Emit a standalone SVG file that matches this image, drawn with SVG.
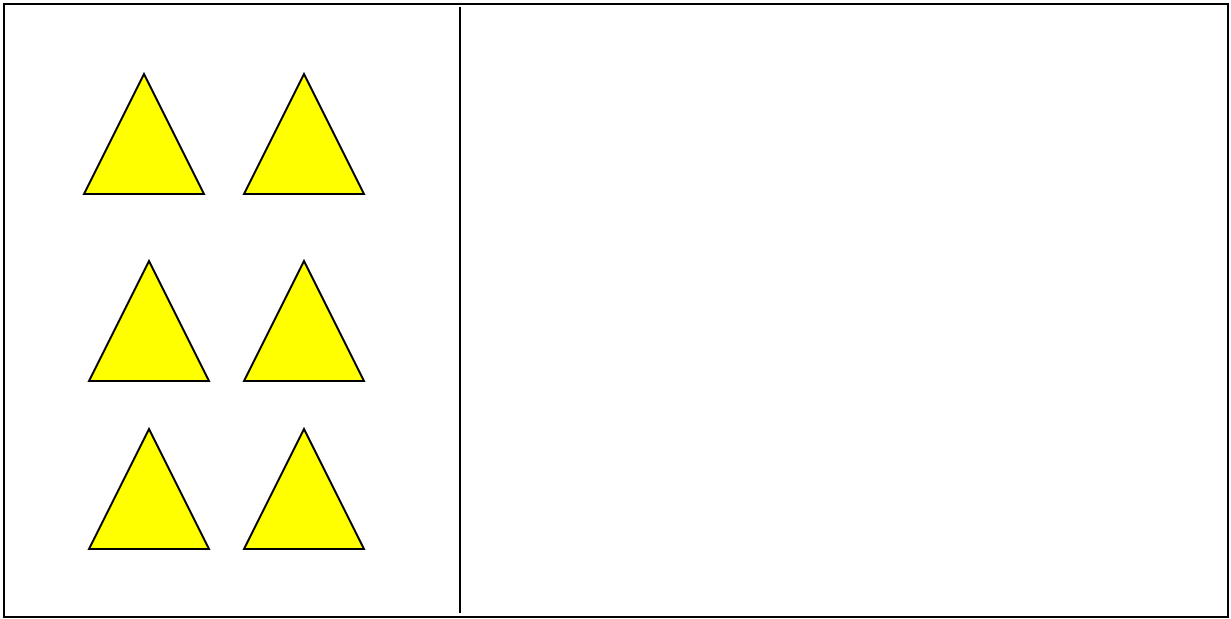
<svg xmlns="http://www.w3.org/2000/svg" width="1231" height="619" viewBox="0 0 1231 619">
<style>
.tri{fill:#ffff00;stroke:#000;stroke-width:2;stroke-linejoin:miter}
.frame{fill:#fff;stroke:#000;stroke-width:2}
.div{stroke:#000;stroke-width:2}
</style>
<rect width="1231" height="619" fill="#fff"/>
<rect class="frame" x="4" y="4" width="1224" height="613"/>
<g id="connectors">
<line class="div" x1="460" y1="7" x2="460" y2="613"/>
</g>
<g id="tri1"><polygon class="tri" points="144,74 204,194 84,194"/></g>
<g id="tri2"><polygon class="tri" points="304,74 364,194 244,194"/></g>
<g id="tri3"><polygon class="tri" points="149,261 209,381 89,381"/></g>
<g id="tri4"><polygon class="tri" points="304,261 364,381 244,381"/></g>
<g id="tri5"><polygon class="tri" points="149,429 209,549 89,549"/></g>
<g id="tri6"><polygon class="tri" points="304,429 364,549 244,549"/></g>
</svg>
